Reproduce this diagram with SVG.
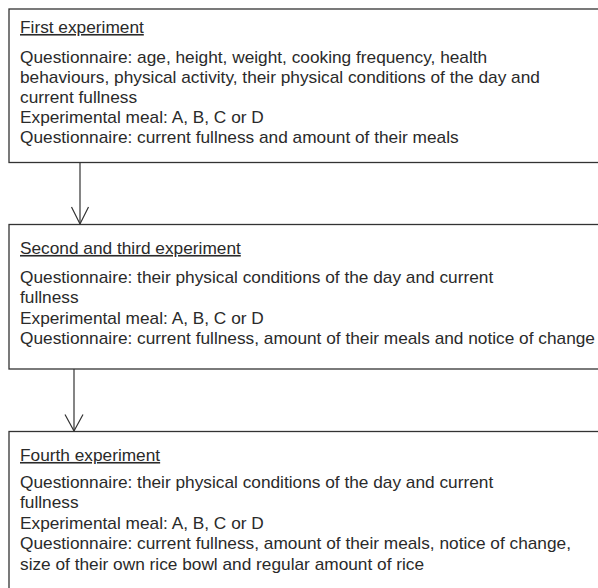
<svg xmlns="http://www.w3.org/2000/svg" width="598" height="588" viewBox="0 0 598 588">
<style>
.box{fill:#fff;stroke:#333;stroke-width:1.3}
.t{font-family:"Liberation Sans",Arial,Helvetica,sans-serif;font-size:16px;fill:#2a2a2a}
.h{text-decoration:underline}
.c{stroke:#333;stroke-width:1.2;fill:none}
</style>
<rect width="598" height="588" fill="#fff"/>
<g id="connectors">
<line class="c" x1="80" y1="162.5" x2="80" y2="224"/>
<polyline class="c" points="71.5,207 80,224 88.5,207"/>
<line class="c" x1="74" y1="369" x2="74" y2="431"/>
<polyline class="c" points="65,414.5 74,431 83,414.5"/>
</g>
<g id="node1">
<rect class="box" x="9" y="9" width="600" height="153.5"/>
<g class="t" transform="translate(20,0) scale(1.08,1)">
<text class="h" x="0" y="33">First experiment</text>
<text x="0" y="63.5">Questionnaire: age, height, weight, cooking frequency, health</text>
<text x="0" y="83.5">behaviours, physical activity, their physical conditions of the day and</text>
<text x="0" y="103.5">current fullness</text>
<text x="0" y="123.5">Experimental meal: A, B, C or D</text>
<text x="0" y="143.5">Questionnaire: current fullness and amount of their meals</text>
</g>
</g>
<g id="node2">
<rect class="box" x="9" y="224.5" width="600" height="144.5"/>
<g class="t" transform="translate(20,0) scale(1.08,1)">
<text class="h" x="0" y="254">Second and third experiment</text>
<text x="0" y="283">Questionnaire: their physical conditions of the day and current</text>
<text x="0" y="303.5">fullness</text>
<text x="0" y="324">Experimental meal: A, B, C or D</text>
<text x="0" y="344.5">Questionnaire: current fullness, amount of their meals and notice of change</text>
</g>
</g>
<g id="node3">
<rect class="box" x="9" y="431.5" width="600" height="170"/>
<g class="t" transform="translate(20,0) scale(1.08,1)">
<text class="h" x="0" y="461">Fourth experiment</text>
<text x="0" y="488">Questionnaire: their physical conditions of the day and current</text>
<text x="0" y="508.5">fullness</text>
<text x="0" y="529">Experimental meal: A, B, C or D</text>
<text x="0" y="549.5">Questionnaire: current fullness, amount of their meals, notice of change,</text>
<text x="0" y="570">size of their own rice bowl and regular amount of rice</text>
</g>
</g>
</svg>
